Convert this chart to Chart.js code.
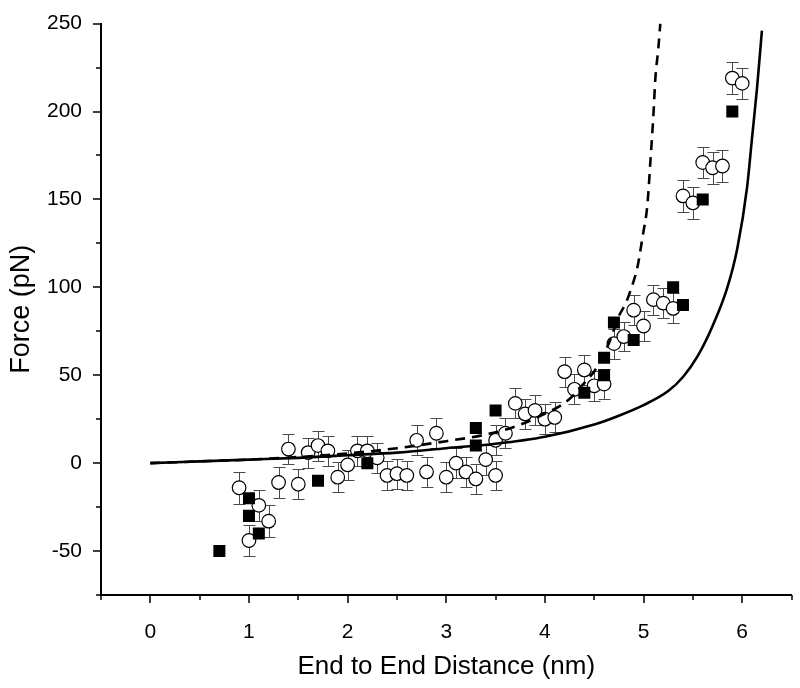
<!DOCTYPE html>
<html>
<head>
<meta charset="utf-8">
<script src="https://cdn.jsdelivr.net/npm/chart.js@4.4.1/dist/chart.umd.min.js"></script>
<style>
  html, body { margin: 0; padding: 0; background: #fff; }
  #wrap { width: 800px; height: 688px; }
</style>
</head>
<body>
<div id="wrap"><canvas id="forceChart"></canvas></div>
<script>
// measured points (open circles, with error bars)
const circleX = [0.9, 1.0, 1.1, 1.2, 1.3, 1.4, 1.5, 1.6, 1.7, 1.8, 1.9, 2.0, 2.1, 2.2, 2.3, 2.4, 2.5, 2.6, 2.7, 2.8,
  2.9, 3.0, 3.1, 3.2, 3.3, 3.4, 3.5, 3.5, 3.6, 3.7, 3.8, 3.9, 4.0, 4.1, 4.2, 4.3, 4.4, 4.5, 4.6, 4.7,
  4.8, 4.9, 5.0, 5.1, 5.2, 5.3, 5.4, 5.5, 5.6, 5.7, 5.8, 5.9, 6.0];
const circleY = [-14, -44, -24, -33, -11, 8, -12, 6, 10, 7, -8, -1, 7, 7, 3, -7, -6, -7, 13, -5,
  17, -8, 0, -5, -9, 2, -7, 13, 17, 34, 28, 30, 25, 26, 52, 42, 53, 44, 45, 68,
  72, 87, 78, 93, 91, 88, 152, 148, 171, 168, 169, 219, 216];
const circleErr = [9, 9, 9, 9, 9, 8.5, 8.5, 8.5, 8.5, 8.5, 8.5, 8.5, 8.5, 8.5, 8.5, 8.5, 8.5, 8.5, 8.5, 8.5,
  8.5, 8.5, 8.5, 8.5, 8.5, 8.5, 8.5, 8.5, 8.5, 8.5, 8.5, 8.5, 8.5, 8.5, 8.5, 8.5, 8.5, 8.5, 8.5, 8.5,
  8.5, 8.5, 8.5, 8.5, 8.5, 8.5, 9, 9, 9, 9, 9, 9, 9];

// filled squares
const squareX = [0.7, 1.0, 1.0, 1.1, 1.7, 2.2, 3.3, 3.3, 3.5, 4.4, 4.6, 4.6, 4.7, 4.9, 5.3, 5.4, 5.6, 5.9];
const squareY = [-50, -20, -30, -40, -10, 0, 10, 20, 30, 40, 50, 60, 80, 70, 100, 90, 150, 200];

// fitted curves
const solidX = [0, 0.5, 1, 1.5, 2, 2.5, 3, 3.5, 4, 4.5, 4.75, 5, 5.25, 5.4, 5.55, 5.7, 5.85, 5.95, 6.05, 6.1, 6.15, 6.2];
const solidY = [0, 1, 2, 3, 4.5, 6, 8.5, 11, 15, 22, 27, 33, 41, 49, 61, 78, 100, 122, 157, 185, 213, 246];
const dashX = [0, 0.5, 1, 1.5, 2, 2.5, 3, 3.36, 3.67, 3.96, 4.24, 4.43, 4.51, 4.65, 4.75, 4.82, 4.87, 4.94, 4.99,
  5.04, 5.07, 5.1, 5.12, 5.15, 5.17];
const dashY = [0, 1, 2, 3.5, 5.5, 8.5, 12.5, 15.8, 20.3, 27, 36, 47.6, 53, 68.4, 83.6, 91, 98.5, 112, 128.7,
  147.5, 172, 198, 219, 236, 250];

// axis ranges
const xMin = -0.5, xMax = 6.5, xStep = 1, xMinor = 0.5;
const yMin = -75, yMax = 250, yStep = 50, yMinor = 25;
const xLabels = [0, 1, 2, 3, 4, 5, 6];
const yLabels = [-50, 0, 50, 100, 150, 200, 250];

const toPoints = (xs, ys) => xs.map((x, i) => ({ x: x, y: ys[i] }));

// error bars + tick marks
const extras = {
  id: 'extras',
  beforeDatasetsDraw(chart) {
    const ctx = chart.ctx;
    const x = chart.scales.x, y = chart.scales.y;
    ctx.save();
    ctx.strokeStyle = '#4a4a4a';
    ctx.lineWidth = 1;
    circleX.forEach((cx, i) => {
      const px = Math.round(x.getPixelForValue(cx)) + 0.5;
      const top = Math.round(y.getPixelForValue(circleY[i] + circleErr[i])) + 0.5;
      const bot = Math.round(y.getPixelForValue(circleY[i] - circleErr[i])) + 0.5;
      ctx.beginPath();
      ctx.moveTo(px, top); ctx.lineTo(px, bot);
      ctx.moveTo(px - 6, top); ctx.lineTo(px + 6, top);
      ctx.moveTo(px - 6, bot); ctx.lineTo(px + 6, bot);
      ctx.stroke();
    });
    ctx.restore();
  },
  afterDraw(chart) {
    const ctx = chart.ctx;
    const area = chart.chartArea;
    const x = chart.scales.x, y = chart.scales.y;
    ctx.save();
    ctx.strokeStyle = '#000';
    ctx.lineWidth = 1.5;
    ctx.beginPath();
    for (let v = yMin; v <= yMax + 1e-9; v += yMinor) {
      const py = Math.round(y.getPixelForValue(v));
      const len = (v % yStep === 0) ? 8 : 5;
      ctx.moveTo(area.left - len, py); ctx.lineTo(area.left, py);
    }
    for (let v = xMin; v <= xMax + 1e-9; v += xMinor) {
      const px = Math.round(x.getPixelForValue(v));
      const len = (Math.abs(v - Math.round(v)) < 1e-9) ? 8 : 5;
      ctx.moveTo(px, area.bottom); ctx.lineTo(px, area.bottom + len);
    }
    ctx.stroke();
    ctx.restore();
  }
};

const chart = new Chart(document.getElementById('forceChart'), {
  type: 'scatter',
  data: {
    datasets: [{
      label: 'fit',
      type: 'line',
      data: toPoints(solidX, solidY),
      borderColor: '#000',
      borderWidth: 2.6,
      pointRadius: 0,
      cubicInterpolationMode: 'monotone',
      fill: false,
      order: 1
    }, {
      label: 'fit 2',
      type: 'line',
      data: toPoints(dashX, dashY),
      borderColor: '#000',
      borderWidth: 2.6,
      borderDash: [10, 7],
      pointRadius: 0,
      cubicInterpolationMode: 'monotone',
      fill: false,
      order: 1
    }, {
      label: 'squares',
      data: toPoints(squareX, squareY),
      pointStyle: 'rect',
      pointRadius: 8.5,
      backgroundColor: '#000',
      borderColor: '#000',
      borderWidth: 0,
      order: 2
    }, {
      label: 'circles',
      data: toPoints(circleX, circleY),
      pointStyle: 'circle',
      pointRadius: 6.8,
      backgroundColor: '#fff',
      borderColor: '#000',
      borderWidth: 1.2,
      order: 3
    }]
  },
  options: {
    responsive: true,
    maintainAspectRatio: false,
    animation: false,
    layout: { padding: { top: 17, right: 7, left: 0, bottom: 0 } },
    plugins: {
      legend: { display: false },
      tooltip: { enabled: false }
    },
    scales: {
      x: {
        type: 'linear',
        min: xMin,
        max: xMax,
        afterFit: s => { s.height = 93; },
        afterBuildTicks: s => {
          s.ticks = xLabels.map(v => ({ value: v }));
        },
        ticks: {
          color: '#000',
          font: { family: 'Liberation Sans', size: 21 },
          padding: 17,
          maxRotation: 0
        },
        grid: { display: false },
        border: { display: true, color: '#000', width: 2 },
        title: {
          display: true,
          text: 'End to End Distance (nm)',
          color: '#000',
          font: { family: 'Liberation Sans', size: 26 },
          padding: { top: 0, bottom: 6 }
        }
      },
      y: {
        type: 'linear',
        min: yMin,
        max: yMax,
        afterFit: s => { s.width = 101; },
        afterBuildTicks: s => {
          s.ticks = yLabels.map(v => ({ value: v }));
        },
        ticks: {
          color: '#000',
          font: { family: 'Liberation Sans', size: 21 },
          padding: 11
        },
        grid: { display: false },
        border: { display: true, color: '#000', width: 2 },
        title: {
          display: true,
          text: 'Force (pN)',
          color: '#000',
          font: { family: 'Liberation Sans', size: 27 },
          padding: { top: 5, bottom: 0 }
        }
      }
    }
  },
  plugins: [extras]
});
</script>
</body>
</html>
